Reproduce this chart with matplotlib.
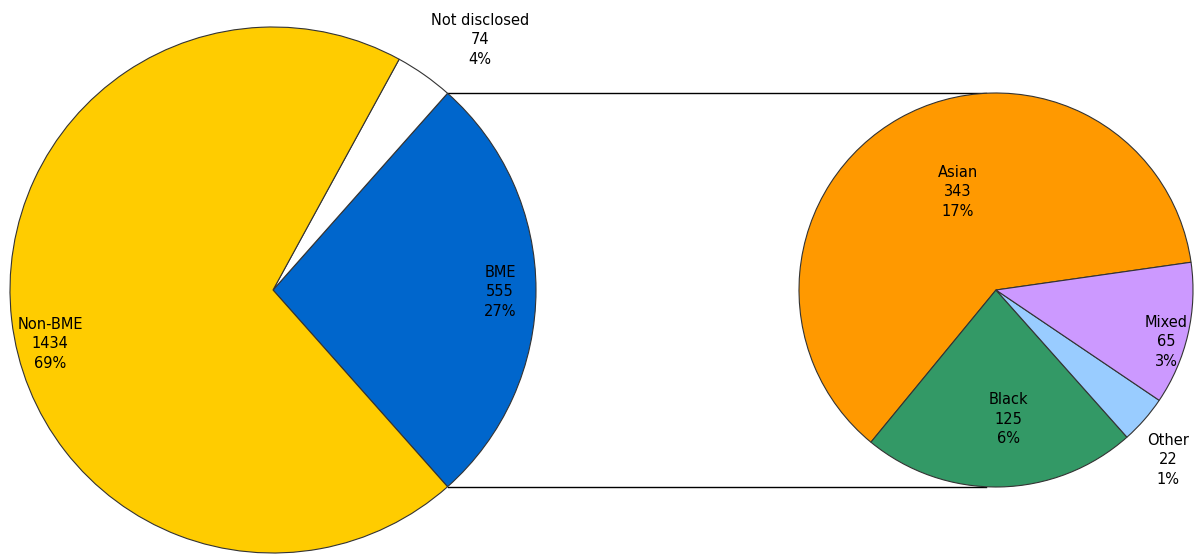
import numpy as np
import matplotlib.pyplot as plt

# main split
main_labels = ["BME", "Not disclosed", "Non-BME"]
main_counts = [555, 74, 1434]
main_pcts = ["27%", "4%", "69%"]
main_colors = ["#0066CC", "#FFFFFF", "#FFCC00"]

# breakdown of the BME slice
sub_labels = ["Asian", "Black", "Other", "Mixed"]
sub_counts = [343, 125, 22, 65]
sub_pcts = ["17%", "6%", "1%", "3%"]
sub_colors = ["#FF9900", "#339966", "#99CCFF", "#CC99FF"]

W, H = 1197, 554
fig = plt.figure(figsize=(W / 100, H / 100), dpi=100)
ax = fig.add_axes([0, 0, 1, 1])

# pixel-like coordinates, y up
c1, r1 = (273, H - 290), 263
c2, r2 = (996, H - 290), 197

bme_angle = 360 * main_counts[0] / sum(main_counts)
wedges1, _ = ax.pie(main_counts, colors=main_colors, startangle=-bme_angle / 2,
                    center=c1, radius=r1, counterclock=True,
                    wedgeprops=dict(edgecolor="#333333", linewidth=0.8))
wedges2, _ = ax.pie(sub_counts, colors=sub_colors, startangle=8.1,
                    center=c2, radius=r2, counterclock=True,
                    wedgeprops=dict(edgecolor="#333333", linewidth=0.8))

# connector lines from the BME slice across to the breakdown pie
half = np.deg2rad(bme_angle / 2)
for s in (1, -1):
    x0 = c1[0] + r1 * np.cos(half)
    y0 = c1[1] + s * r1 * np.sin(half)
    ax.plot([x0, c2[0] - 10], [y0, y0], color="black", lw=1.0, zorder=0)
for w in wedges1 + wedges2:
    w.set_zorder(2)

font = dict(fontsize=10.5, ha="center", va="center", family="DejaVu Sans",
            linespacing=1.4, zorder=5)
main_pos = [(500, 292), (480, 40), (50, 344)]
for lab, n, p, (x, y) in zip(main_labels, main_counts, main_pcts, main_pos):
    ax.text(x, H - y, f"{lab}\n{n}\n{p}", **font)
sub_pos = [(958, 192), (1008, 419), (1168, 460), (1166, 342)]
for lab, n, p, (x, y) in zip(sub_labels, sub_counts, sub_pcts, sub_pos):
    ax.text(x, H - y, f"{lab}\n{n}\n{p}", **font)

ax.set_xlim(0, W)
ax.set_ylim(0, H)
ax.set_aspect("equal")
ax.axis("off")
fig.savefig("out.png", dpi=100)
